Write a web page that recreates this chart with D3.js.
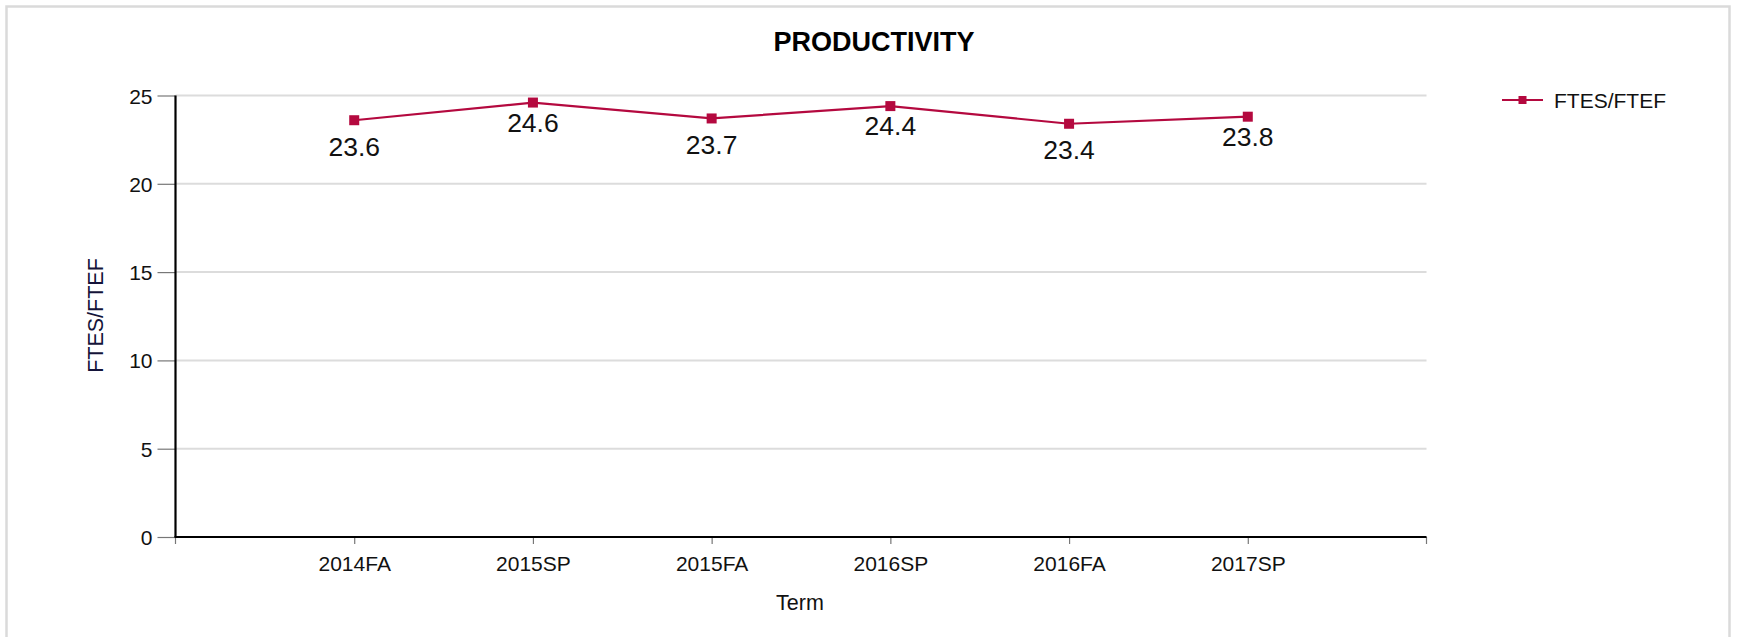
<!DOCTYPE html>
<html>
<head>
<meta charset="utf-8">
<script src="https://cdn.jsdelivr.net/npm/d3@7"></script>
<style>
  html, body { margin: 0; padding: 0; background: #fff; }
  svg { display: block; font-family: "Liberation Sans", Arial, sans-serif; }
</style>
</head>
<body>
<svg id="chart" width="1738" height="637"></svg>
<script>
const categories = ["2014FA", "2015SP", "2015FA", "2016SP", "2016FA", "2017SP"];
const values = [23.6, 24.6, 23.7, 24.4, 23.4, 23.8];
const yTicks = [0, 5, 10, 15, 20, 25];
const seriesName = "FTES/FTEF";
const chartTitle = "PRODUCTIVITY";
const xTitle = "Term";
const yTitle = "FTES/FTEF";

(function () {
const color = "#b4093f";
const svg = d3.select("#chart");

// outer frame
svg.append("rect")
  .attr("x", 6.5).attr("y", 6.5).attr("width", 1723).attr("height", 660)
  .attr("fill", "none").attr("stroke", "#dadada").attr("stroke-width", 2.5);

const pLeft = 175.5, pRight = 1426.5, pTop = 95.5, pBottom = 537;

const x = d3.scalePoint().domain(categories).range([pLeft, pRight]).padding(1);
const y = d3.scaleLinear().domain([0, 25]).range([pBottom, pTop]);

// gridlines
svg.append("g").selectAll("line").data(yTicks.filter(d => d > 0)).join("line")
  .attr("x1", pLeft).attr("x2", pRight)
  .attr("y1", d => y(d)).attr("y2", d => y(d))
  .attr("stroke", "#dcdcdc").attr("stroke-width", 2);

// y axis
const yAxis = svg.append("g").attr("transform", `translate(${pLeft},0)`)
  .call(d3.axisLeft(y).tickValues(yTicks).tickSize(18).tickPadding(5));
yAxis.select(".domain").remove();
yAxis.selectAll(".tick line").attr("stroke", "#777").attr("stroke-width", 1.2);
yAxis.selectAll(".tick text")
  .attr("font-size", 21).attr("fill", "#111")
  .attr("font-family", "Liberation Sans, Arial, sans-serif")
  .attr("dy", "0.36em");

// x axis ticks
const xg = svg.append("g").attr("transform", `translate(0,${pBottom})`)
  .call(d3.axisBottom(x).tickSize(7).tickPadding(12));
xg.select(".domain").remove();
xg.selectAll(".tick line").attr("stroke", "#777").attr("stroke-width", 1.2);
xg.selectAll(".tick text")
  .attr("font-size", 21).attr("fill", "#111")
  .attr("font-family", "Liberation Sans, Arial, sans-serif");
// end ticks
svg.append("g").selectAll("line").data(x.range()).join("line")
  .attr("x1", d => d).attr("x2", d => d)
  .attr("y1", pBottom).attr("y2", pBottom + 7)
  .attr("stroke", "#777").attr("stroke-width", 1.2);

// axis lines
svg.append("line").attr("x1", pLeft).attr("x2", pLeft).attr("y1", pTop).attr("y2", pBottom)
  .attr("stroke", "#000").attr("stroke-width", 2.2);
svg.append("line").attr("x1", pLeft - 1).attr("x2", pRight).attr("y1", pBottom).attr("y2", pBottom)
  .attr("stroke", "#000").attr("stroke-width", 2.2);

// series
const pts = categories.map((c, i) => ({ c, v: values[i], i }));
svg.append("path").datum(pts)
  .attr("d", d3.line().x(d => x(d.c)).y(d => y(d.v)))
  .attr("fill", "none").attr("stroke", color).attr("stroke-width", 2.2);

svg.append("g").selectAll("rect").data(pts).join("rect")
  .attr("x", d => x(d.c) - 5).attr("y", d => y(d.v) - 5)
  .attr("width", 10).attr("height", 10).attr("fill", color);

// data labels: local peaks sit closer under the marker
function isPeak(i) {
  const prev = i > 0 ? values[i - 1] : -Infinity;
  const next = i < values.length - 1 ? values[i + 1] : -Infinity;
  return values[i] >= prev && values[i] >= next;
}
svg.append("g").selectAll("text").data(pts).join("text")
  .attr("x", d => x(d.c))
  .attr("y", d => y(d.v) + (isPeak(d.i) ? 29 : 35.5))
  .attr("text-anchor", "middle")
  .attr("font-size", 26.5).attr("fill", "#111")
  .text(d => d.v.toFixed(1));

// title
svg.append("text").attr("x", 874).attr("y", 51.4)
  .attr("text-anchor", "middle").attr("font-size", 27).attr("font-weight", "bold")
  .attr("fill", "#000").text(chartTitle);

// axis titles
svg.append("text").attr("x", 800).attr("y", 609.7)
  .attr("text-anchor", "middle").attr("font-size", 21.5).attr("fill", "#111").text(xTitle);
svg.append("text").attr("transform", "translate(102.7,315.5) rotate(-90)")
  .attr("text-anchor", "middle").attr("font-size", 21.5).attr("fill", "#14143a").text(yTitle);

// legend
const lg = svg.append("g").attr("transform", "translate(1502,100)");
lg.append("line").attr("x1", 0).attr("x2", 41).attr("y1", 0).attr("y2", 0)
  .attr("stroke", color).attr("stroke-width", 2.2);
lg.append("rect").attr("x", 16.5).attr("y", -4).attr("width", 8).attr("height", 8).attr("fill", color);
lg.append("text").attr("x", 52).attr("y", 7.5).attr("font-size", 21).attr("fill", "#111").text(seriesName);
})();
</script>
</body>
</html>
